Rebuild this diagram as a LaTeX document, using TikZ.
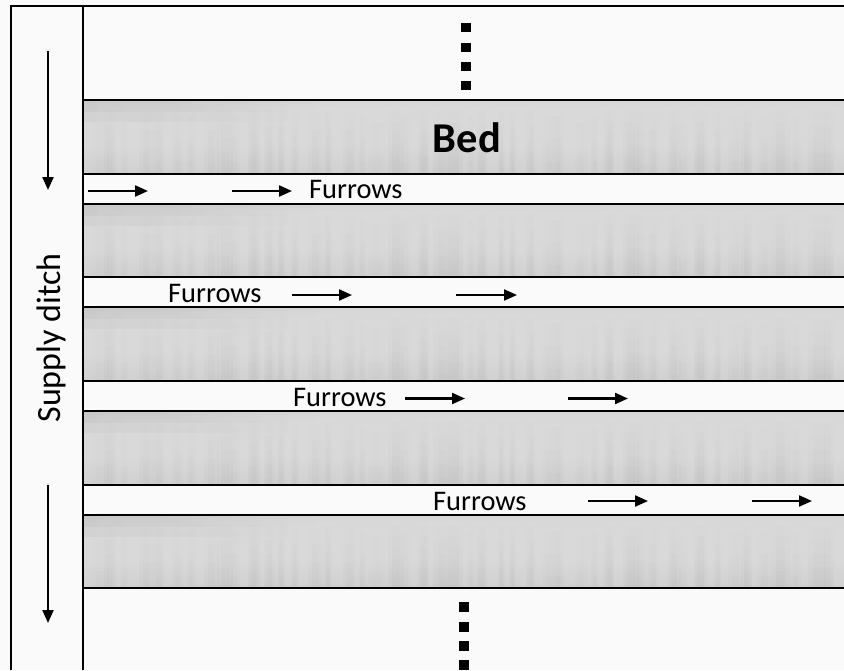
\documentclass[tikz,border=0pt]{standalone}
\usepackage{fontspec}
\setmainfont{Carlito}
\usetikzlibrary{arrows.meta,fadings}

\definecolor{paper}{RGB}{250,250,250}
\definecolor{bedtop}{RGB}{176,176,176}
\definecolor{bedhi}{RGB}{204,204,204}
\definecolor{bedmid}{RGB}{217,217,217}
\definecolor{bedlow}{RGB}{204,204,204}
\definecolor{bedbot}{RGB}{196,196,196}

% soil texture of a bed, from bottom (0bp) to top (100bp)
\pgfdeclareverticalshading{bedsoil}{100bp}{%
  color(0bp)=(bedbot); color(14bp)=(bedlow); color(45bp)=(bedmid);
  color(70bp)=(bedmid); color(86bp)=(bedhi); color(100bp)=(bedtop)}

% clear at the top, opaque at the bottom
\tikzfading[name=streakfade, top color=transparent!100, bottom color=transparent!0]
% opaque on the left, clear on the right
\tikzfading[name=soilshadow, left color=transparent!0, right color=transparent!100]

\begin{document}
\begin{tikzpicture}[x=1pt,y=-1pt,
  frame/.style={line width=2pt,black},
  flow/.style={line width=2.2pt,-{Triangle[length=13pt,width=11pt]}},
  furrowlabel/.style={font=\fontsize{28.4}{30}\selectfont,inner sep=0pt,anchor=base west},
  dotmark/.style={fill=black,minimum size=9.5pt,inner sep=0pt,draw=none,rectangle}
]
\useasboundingbox (0,0) rectangle (844,670);
\fill[paper] (0,0) rectangle (844,670);

% raised beds with soil shading and soft vertical streaks
\foreach \t/\b in {100/174,204/277,307/381,411/485,515/588} {
  \shade[shading=bedsoil] (83,\t) rectangle (844,\b);
  \pgfmathsetseed{5}
  \foreach \k in {0,...,47} {
    \pgfmathsetmacro\sx{88+\k*15.5+rnd*8}
    \pgfmathsetmacro\sw{6+rnd*12}
    \pgfmathsetmacro\sq{\sw/2}
    \pgfmathsetmacro\so{0.008+rnd*0.016}
    \fill[black,opacity=\so,path fading=streakfade] (\sx,\t+4) rectangle ++(\sw,\b-\t-5);
    \fill[black,opacity=\so,path fading=streakfade] (\sx+\sw/4,\t+4) rectangle ++(\sq,\b-\t-5);
  }
  \fill[black,opacity=0.03,path fading=soilshadow] (84,\t+1) rectangle (330,\t+12);
  \fill[black,opacity=0.03,path fading=soilshadow] (84,\t+1) rectangle (300,\t+22);
  \draw[frame] (83,\t) -- (844,\t) (83,\b) -- (844,\b);
}

% outer frame and supply ditch bank
\coordinate (fbl) at (11,670);
\coordinate (ftl) at (11,6);
\coordinate (ftr) at (844,6);
\coordinate (dtop) at (83,6);
\coordinate (dbot) at (83,670);
\draw[frame] (fbl) -- (ftl) -- (ftr);
\draw[frame] (dtop) -- (dbot);

% continuation marks
\foreach \y [count=\i] in {27.5,47.5,66.5,85.5}
  \node[dotmark] (up\i) at (466,\y) {};
\foreach \y [count=\i] in {607,627,646,665}
  \node[dotmark] (dn\i) at (464,\y) {};

% labels
\node[font=\fontsize{42.5}{44}\selectfont\bfseries,anchor=base,inner sep=0pt] (bed) at (467,152) {Bed};
\node[font=\fontsize{34}{36}\selectfont,rotate=90,anchor=base,inner sep=0pt] (ditch) at (60,338) {Supply ditch};
\node[furrowlabel] (f1) at (309,198) {Furrows};
\node[furrowlabel] (f2) at (168,302) {Furrows};
\node[furrowlabel] (f3) at (293,406) {Furrows};
\node[furrowlabel] (f4) at (433,510) {Furrows};

% flow in the supply ditch
\coordinate (s1a) at (48,51);  \coordinate (s1b) at (48,190);
\coordinate (s2a) at (48,485); \coordinate (s2b) at (48,623);
\draw[flow] (s1a) -- (s1b);
\draw[flow] (s2a) -- (s2b);

% flow along the furrows
\foreach \xa/\xb/\y [count=\i] in {88/148/191,232/292/191,292/352/295,456/517/295,
                                  405/465/398.5,568/628/398.5,588/648/501,752/812/501} {
  \coordinate (a\i) at (\xa,\y);
  \coordinate (b\i) at (\xb,\y);
  \draw[flow] (a\i) -- (b\i);
}
\end{tikzpicture}
\end{document}
